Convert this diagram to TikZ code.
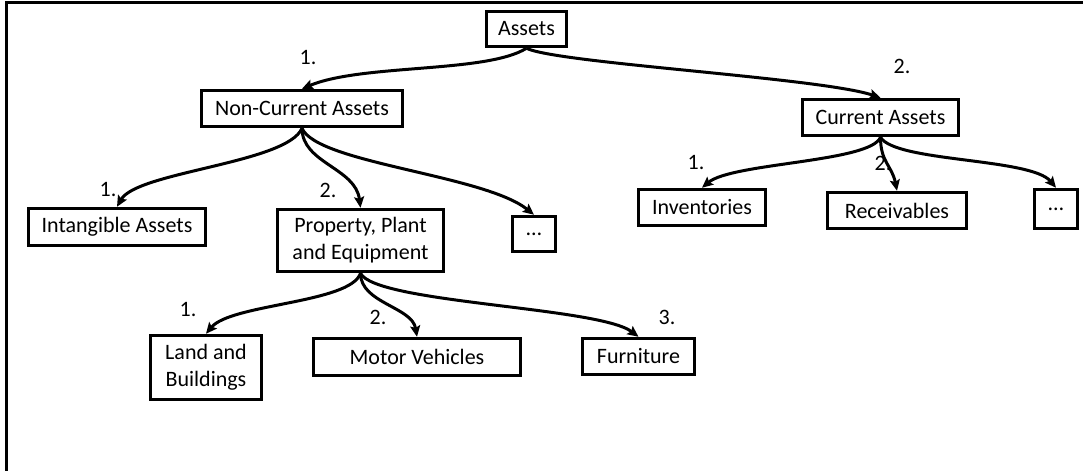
\documentclass[tikz,border=0pt]{standalone}
\usepackage{fontspec}
\setmainfont{Carlito}
\usetikzlibrary{arrows.meta}

\begin{document}
\begin{tikzpicture}[
  x=0.5pt, y=-0.5pt,
  font=\fontsize{11pt}{13.5pt}\selectfont,
  box/.style={draw, line width=1.75pt, inner sep=0pt, align=center},
  num/.style={inner sep=0pt},
  conn/.style={line width=1.5pt, -{Stealth[length=5.5pt, width=5pt, inset=1pt]}}
]
\useasboundingbox (0,0) rectangle (1083,471);

% frame (left and top edges)
\draw[line width=1.5pt] (6,471) -- (6,2) -- (1083,2);

% level 0
\node[box, minimum width=40pt, minimum height=17.5pt] (assets) at (526.5,29) {Assets};

% level 1
\node[box, minimum width=100.5pt, minimum height=18pt] (nca) at (302,108.5) {Non-Current Assets};
\node[box, minimum width=78pt, minimum height=18pt] (ca) at (880.5,117.5) {Current Assets};

% level 2 under non-current assets
\node[box, minimum width=88.5pt, minimum height=18.5pt] (intang) at (117,227) {Intangible Assets};
\node[box, minimum width=83pt, minimum height=31pt] (ppe) at (360.5,240.5) {Property, Plant\\and Equipment};
\node[box, minimum width=21.5pt, minimum height=17.5pt] (ncamore) at (534,234) {…};

% level 2 under current assets
\node[box, minimum width=63.5pt, minimum height=18pt] (inv) at (702,207.5) {Inventories};
\node[box, minimum width=69.5pt, minimum height=18pt] (rec) at (897,210.5) {Receivables};
\node[box, minimum width=21.5pt, minimum height=19.5pt] (camore) at (1056,209) {…};

% level 3 under property, plant and equipment
\node[box, minimum width=55.5pt, minimum height=32pt] (land) at (206,367.5) {Land and\\Buildings};
\node[box, minimum width=103.5pt, minimum height=18.5pt] (motor) at (417,357) {Motor Vehicles};
\node[box, minimum width=56pt, minimum height=18pt] (furn) at (638.5,356.5) {Furniture};

% ordering numbers
\node[num] (n1) at (308,58) {1.};
\node[num] (n2) at (902,66) {2.};
\node[num] (n11) at (108,190) {1.};
\node[num] (n12) at (328,190) {2.};
\node[num] (n21) at (696,163) {1.};
\node[num] (n22) at (883,163) {2.};
\node[num] (n121) at (188,310) {1.};
\node[num] (n122) at (378,317) {2.};
\node[num] (n123) at (667,317) {3.};

% connectors
\draw[conn] (assets.south) .. controls +(-40,25) and +(60,-25) .. (nca.north);
\draw[conn] (assets.south) .. controls +(30,15) and +(-60,-20) .. (ca.north);

\draw[conn] (nca.south) .. controls +(-15,35) and +(20,-35) .. (intang.north);
\draw[conn] (nca.south) .. controls +(0,35) and +(-5,-40) .. (ppe.north);
\draw[conn] (nca.south) .. controls +(15,35) and +(-50,-40) .. (ncamore.north);

\draw[conn] (ca.south) .. controls +(-10,25) and +(30,-25) .. (inv.north);
\draw[conn] (ca.south) .. controls +(0,25) and +(-5,-25) .. (rec.north);
\draw[conn] (ca.south) .. controls +(15,25) and +(-25,-30) .. (camore.north);

\draw[conn] (ppe.south) .. controls +(-10,30) and +(25,-30) .. (land.north);
\draw[conn] (ppe.south) .. controls +(0,30) and +(-5,-30) .. (motor.north);
\draw[conn] (ppe.south) .. controls +(15,30) and +(-40,-30) .. (furn.north);
\end{tikzpicture}
\end{document}
